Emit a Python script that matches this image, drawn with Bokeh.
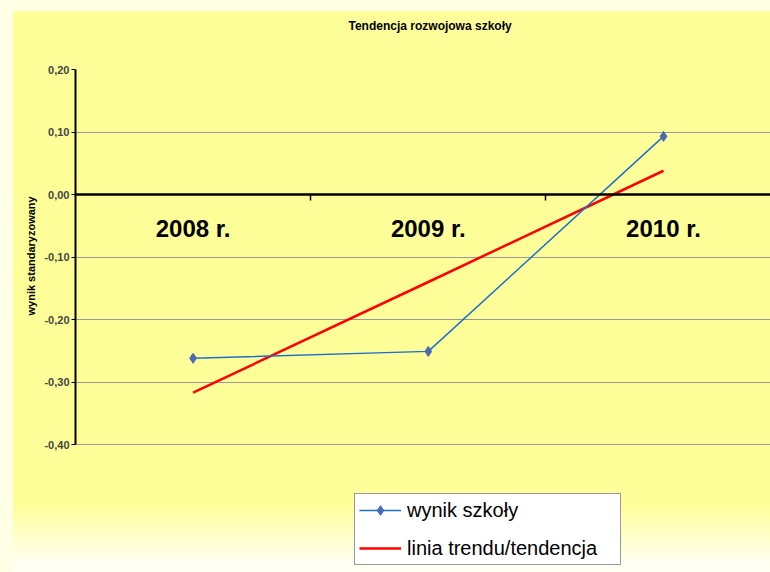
from bokeh.plotting import figure
from bokeh.models import (Range1d, LinearAxis, FixedTicker, Grid, Legend, LegendItem,
                          GlobalInlineStyleSheet, ColumnDataSource, Title)
from bokeh.core.properties import value
from bokeh.embed import file_html
from bokeh.resources import INLINE

# ---- data ----
categories = ["2008 r.", "2009 r.", "2010 r."]
cat_pos = [0, 1, 2]
boundary_ticks = [0.5, 1.5]
wynik_szkoly = [-0.262, -0.251, 0.093]
trend = [-0.317, -0.140, 0.038]
yticks = [-0.4, -0.3, -0.2, -0.1, 0.0, 0.1, 0.2]
ytick_labels = ["-0,40", "-0,30", "-0,20", "-0,10", "0,00", "0,10", "0,20"]

FONT = "Liberation Sans"

# layout: value axis -0.40..0.20 occupies 375px; frame continues below to page bottom
FRAME_TOP = 69
FIG_H = 572
px_per_unit = 375 / (max(yticks) - min(yticks))
y_start = max(yticks) - (FIG_H - FRAME_TOP) / px_per_unit

p = figure(width=770, height=FIG_H,
           x_range=Range1d(-0.5, 2.455), y_range=Range1d(y_start, max(yticks)),
           output_backend="svg", toolbar_location=None,
           x_axis_type=None, y_axis_type=None,
           min_border_left=75, min_border_right=0, min_border_top=FRAME_TOP, min_border_bottom=0,
           title="Tendencja rozwojowa szkoły")

p.border_fill_color = None
p.background_fill_color = None
p.outline_line_color = None
p.styles = {
    "background": "linear-gradient(to right, #FFFFE5 13px, rgba(255,255,255,0) 13px), "
                  "linear-gradient(to bottom, #FFFFE5 11px, #FFFF99 11px, #FFFF99 505px, #FFFFF4 565px)"
}
p.stylesheets = [GlobalInlineStyleSheet(css="body{background:#FFFFE5;}")]

p.title.align = "left"
p.title.offset = 273
p.title.text_font = FONT
p.title.text_font_size = "12px"
p.title.text_font_style = "bold"
p.title.text_color = "#000000"
p.title.standoff = 10
p.title.padding = dict(top=0, right=0, bottom=32, left=0)

# y axis
yax = LinearAxis(ticker=FixedTicker(ticks=yticks),
                 major_label_overrides=dict(zip(yticks, ytick_labels)),
                 bounds=(min(yticks), max(yticks)))
yax.axis_line_color = "black"
yax.axis_line_width = 2
yax.major_tick_out = 4
yax.major_tick_in = 0
yax.major_tick_line_width = 1
yax.minor_tick_line_color = None
yax.major_label_standoff = 2
yax.major_label_text_font = FONT
yax.major_label_text_font_size = "11px"
yax.major_label_text_font_style = "bold"
p.add_layout(yax, "left")

# axis title, centred on the value axis (-0.40..0.20)
ytitle = Title(text="wynik standaryzowany", align="left", offset=257, standoff=10,
               text_font=FONT, text_font_size="11px", text_font_style="bold",
               text_color="black")
p.add_layout(ytitle, "left")

p.add_layout(Grid(dimension=1, ticker=FixedTicker(ticks=yticks),
                  grid_line_color="#9A9A9A", grid_line_width=1))

# category axis line at y=0 with boundary ticks pointing down
xax = LinearAxis(ticker=FixedTicker(ticks=[], minor_ticks=boundary_ticks), fixed_location=0)
xax.axis_line_color = "black"
xax.axis_line_width = 2.5
xax.major_tick_line_color = None
xax.minor_tick_line_color = "black"
xax.minor_tick_line_width = 1.5
xax.minor_tick_out = 0
xax.minor_tick_in = 6
xax.major_label_standoff = 0
xax.major_label_text_font_size = "1px"
p.add_layout(xax, "above")

# category labels under the axis line
cat_src = ColumnDataSource(dict(x=cat_pos, y=[0.0] * len(cat_pos), label=categories))
p.text(x="x", y="y", text="label", source=cat_src, y_offset=20,
       text_align="center", text_baseline="top",
       text_font=value(FONT), text_font_size="24px", text_font_style="bold",
       text_color="black")

# series
r_trend = p.line(cat_pos, trend, line_color="#FF0000", line_width=2.5)
r_line = p.line(cat_pos, wynik_szkoly, line_color="#1E6FCC", line_width=1.5)
r_pts = p.scatter(cat_pos, wynik_szkoly, marker="diamond", size=10,
                  fill_color="#4F6AAE", line_color="#3F66B8", line_width=1)

legend = Legend(items=[LegendItem(label="wynik szkoły", renderers=[r_line, r_pts]),
                       LegendItem(label="linia trendu/tendencja", renderers=[r_trend])],
                location=(279, 7), orientation="vertical")
legend.padding = 4
legend.margin = 0
legend.spacing = 14
legend.glyph_width = 42
legend.glyph_height = 24
legend.label_height = 24
legend.label_width = 209
legend.label_standoff = 6
legend.label_text_font = FONT
legend.label_text_font_size = "20px"
legend.label_text_color = "black"
legend.border_line_color = "#333333"
legend.border_line_width = 1
legend.background_fill_color = "white"
legend.background_fill_alpha = 1
p.add_layout(legend, "center")

open("out.html", "w").write(file_html(p, INLINE))
